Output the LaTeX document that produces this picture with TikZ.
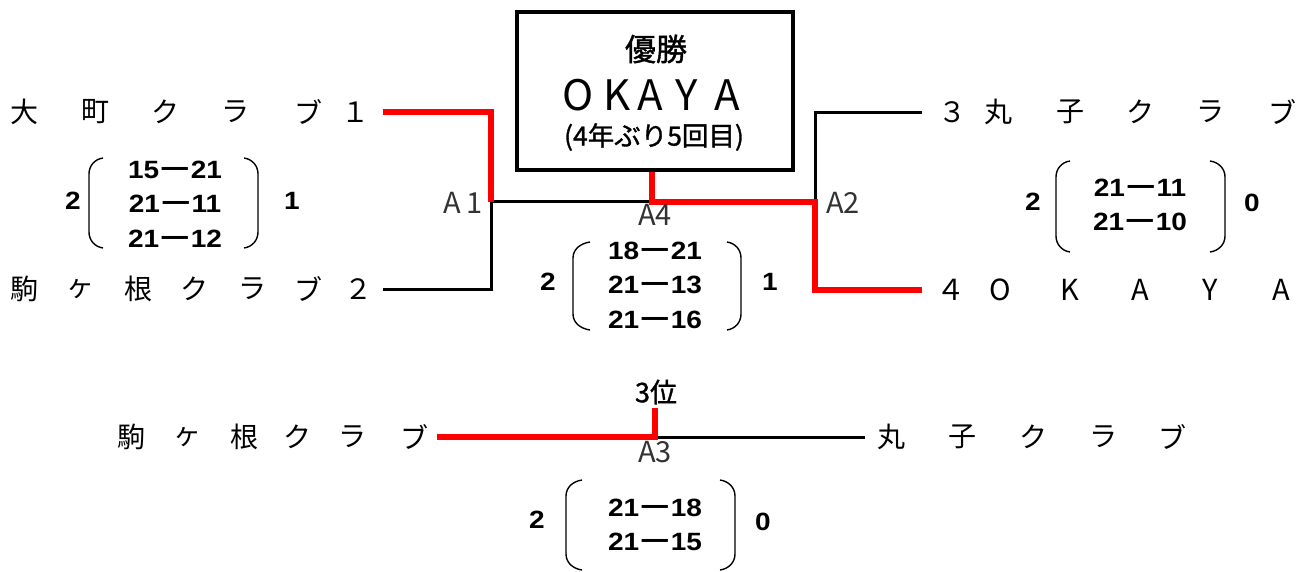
\documentclass[tikz,border=0pt]{standalone}
\usepackage{fontspec}
\usepackage{graphicx}
\newfontfamily\jp{Noto Sans CJK JP}
\newfontfamily\jpm[FakeBold=1.2]{Noto Sans CJK JP}
\newfontfamily\num[FakeStretch=1.12]{Liberation Sans}
\newcommand{\scp}[2]{{\num\bfseries #1}{\jp\bfseries\hspace{-0.12em}\scalebox{1.5}[1]{－}\hspace{-0.12em}}{\num\bfseries #2}}
\tikzset{
  win/.style={draw=red, line width=6pt},
  lose/.style={draw=black, line width=3pt},
  ch/.style={font=\jp\fontsize{28}{28}\selectfont, inner sep=0pt},
  lab/.style={font=\jp\fontsize{29}{29}\selectfont, inner sep=0pt, text=black!80},
  score/.style={font=\fontsize{25}{34.5}\selectfont, inner sep=0pt, align=center},
  tot/.style={font=\num\bfseries\fontsize{25}{25}\selectfont, inner sep=0pt},
  paren/.style={draw=black, line width=1.4pt},
  champbox/.style={draw=black, line width=3.5pt, minimum width=276pt, minimum height=158pt, inner sep=0pt}
}
\newcommand{\lpar}[4]{\draw[paren] (#2,#3) to[out=188,in=90] (#1,#3+16) -- (#1,#4-16) to[out=-90,in=172] (#2,#4);}
\newcommand{\rpar}[4]{\draw[paren] (#1,#3) to[out=-8,in=90] (#2,#3+16) -- (#2,#4-16) to[out=-90,in=8] (#1,#4);}
\begin{document}
\begin{tikzpicture}[x=1pt,y=-1pt]
\useasboundingbox (0,0) rectangle (1298,572);

% champion box
\node[champbox] (champ) at (655,91) {};
\node[font=\jpm\fontsize{31}{31}\selectfont, inner sep=0pt] (yusho) at (656,49) {優勝};
\foreach \c/\x [count=\i] in {O/578,K/617,A/650,Y/687,A/727}
  \node[font=\jp\fontsize{42}{42}\selectfont, inner sep=0pt] (ok\i) at (\x,95) {\c};
\node[font=\jpm\fontsize{26.5}{26.5}\selectfont, inner sep=0pt] (kai) at (654,137) {(4年ぶり5回目)};

% top-left teams
\foreach \c/\x [count=\i] in {大/24,町/95,ク/165,ラ/235,ブ/308,１/355}
  \node[ch] (oa\i) at (\x,112) {\c};
\foreach \c/\x [count=\i] in {駒/24,ヶ/80,根/138,ク/194,ラ/252,ブ/308,２/358}
  \node[ch] (ka\i) at (\x,289) {\c};
% top-right teams
\foreach \c/\x [count=\i] in {３/952,丸/998,子/1070,ク/1140,ラ/1210,ブ/1282}
  \node[ch] (ma\i) at (\x,112) {\c};
\foreach \c/\x [count=\i] in {４/951,O/1000,K/1070,A/1140,Y/1210,A/1281}
  \node[ch, font=\jp\fontsize{29}{29}\selectfont] (oy\i) at (\x,290) {\c};
% bottom teams
\foreach \c/\x [count=\i] in {駒/131,ヶ/187,根/244,ク/297,ラ/352,ブ/414}
  \node[ch] (kb\i) at (\x,437) {\c};
\foreach \c/\x [count=\i] in {丸/891,子/962,ク/1033,ラ/1103,ブ/1172}
  \node[ch] (mb\i) at (\x,437) {\c};

% bracket coordinates
\coordinate (t1) at (383,112);
\coordinate (t2) at (383,289);
\coordinate (j1) at (491,202);
\coordinate (t3) at (922,113);
\coordinate (t4) at (922,290);
\coordinate (j2) at (815,202);
\coordinate (jf) at (652,202);
\coordinate (b1) at (437,437);
\coordinate (b2) at (865,437);
\coordinate (j3) at (655,437);
\coordinate (p3) at (655,408);

% losing lines
\draw[lose] (t2) -| (j1) -- (jf);
\draw[lose] (j2) |- (t3);
\draw[lose] (j3) -- (b2);
% winning lines
\draw[win] (t1) -| (j1);
\draw[win] (champ.south -| jf) -- (jf) -- (j2) |- (t4);
\draw[win] (b1) -- (j3) -- (p3);

% match labels
\node[lab] (A1) at (463,203) {A\,1};
\node[lab] (A4) at (655,215) {A4};
\node[lab] (A2) at (843,203) {A2};
\node[lab] (A3) at (655,452) {A3};
\node[font=\jpm\fontsize{27}{27}\selectfont, inner sep=0pt] (third) at (656,392) {3位};

% scores A1
\node[tot] (s1l) at (73,201) {2};
\lpar{89}{103}{158}{248}
\node[score] (s1) at (175,204) {\scp{15}{21}\\\scp{21}{11}\\\scp{21}{12}};
\rpar{244}{258}{158}{248}
\node[tot] (s1r) at (292,201) {1};

% scores A4
\node[tot] (s4l) at (548,282) {2};
\lpar{573}{590}{242}{330}
\node[score] (s4) at (655,285) {\scp{18}{21}\\\scp{21}{13}\\\scp{21}{16}};
\rpar{727}{741}{242}{330}
\node[tot] (s4r) at (770,282) {1};

% scores A2
\node[tot] (s2l) at (1033,202) {2};
\lpar{1056}{1070}{161}{252}
\node[score] (s2) at (1140,205) {\scp{21}{11}\\\scp{21}{10}};
\rpar{1210}{1225}{161}{252}
\node[tot] (s2r) at (1252,203) {0};

% scores A3
\node[tot] (s3l) at (537,520) {2};
\lpar{566}{582}{480}{570}
\node[score] (s3) at (655,525) {\scp{21}{18}\\\scp{21}{15}};
\rpar{720}{735}{480}{570}
\node[tot] (s3r) at (763,522) {0};
\end{tikzpicture}
\end{document}
